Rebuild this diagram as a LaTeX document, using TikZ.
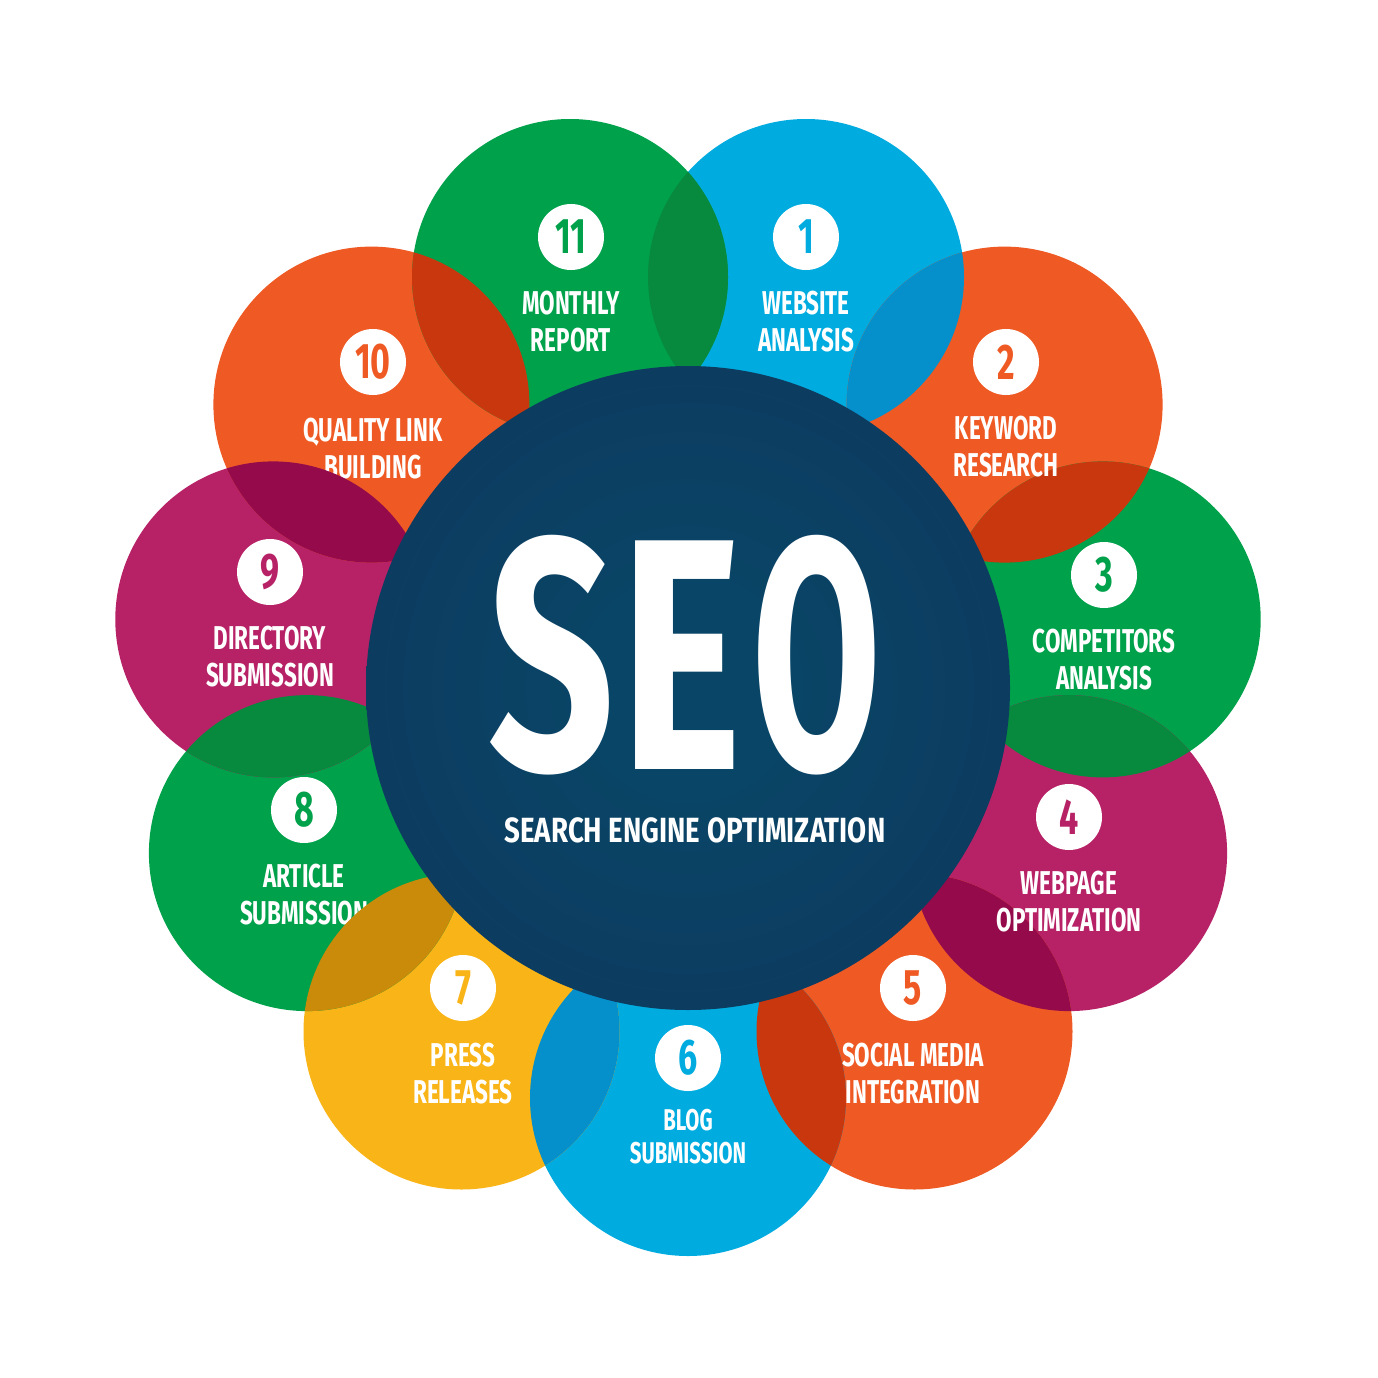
\documentclass[tikz,border=0pt]{standalone}
\usepackage{fontspec}
\newfontfamily\labfam[FakeStretch=0.68]{Fira Sans}
\newfontfamily\subfam[FakeStretch=0.79]{Fira Sans}
\newfontfamily\seofam[FakeStretch=0.62]{Fira Sans}
\newcommand\mynumfont{\labfam\bfseries\fontsize{50}{50}\selectfont}
\newcommand\mylblfont{\labfam\bfseries\fontsize{33}{37}\selectfont}
\newcommand\mysmallfont{\labfam\bfseries\fontsize{30}{33}\selectfont}
\definecolor{cgreen}{HTML}{00A14B}
\definecolor{cgreenD}{HTML}{07893E}
\definecolor{cblue}{HTML}{00ACDF}
\definecolor{cblueD}{HTML}{058FCB}
\definecolor{corange}{HTML}{EF5A24}
\definecolor{corangeD}{HTML}{C8370D}
\definecolor{cmag}{HTML}{B72267}
\definecolor{cmagD}{HTML}{940A4B}
\definecolor{cyel}{HTML}{F9B517}
\definecolor{cyelD}{HTML}{C98B09}
\definecolor{navyO}{HTML}{172853}
\definecolor{navyM}{HTML}{0E395F}
\definecolor{navyI}{HTML}{094566}
\pgfdeclareradialshading{seoshade}{\pgfpoint{0bp}{0bp}}{color(0bp)=(navyI); color(8bp)=(navyI); color(30bp)=(navyM); color(50bp)=(navyO)}
\begin{document}
\begin{tikzpicture}[x=1pt,y=-1pt,
  numc/.style={circle, fill=white, minimum size=66pt, inner sep=0pt, font=\mynumfont},
  lbl/.style={text=white, align=center, inner sep=0pt, font=\mylblfont}]
\fill[white] (0,0) rectangle (1378,1378);
\useasboundingbox (0,0) rectangle (1378,1378);
% centres
\coordinate (c1) at (806,277);
\coordinate (c2) at (1004.6,404.6);
\coordinate (c3) at (1102.7,619.4);
\coordinate (c4) at (1069.1,853.1);
\coordinate (c5) at (914.5,1031.5);
\coordinate (c6) at (688,1098);
\coordinate (c7) at (461.5,1031.5);
\coordinate (c8) at (306.9,853.1);
\coordinate (c9) at (273.3,619.4);
\coordinate (c10) at (371.4,404.6);
\coordinate (c11) at (570,277);
\coordinate (cc) at (688,688);
% base circles
\fill[cblue] (c1) circle (158);
\fill[corange] (c2) circle (158);
\fill[cgreen] (c3) circle (158);
\fill[cmag] (c4) circle (158);
\fill[corange] (c5) circle (158);
\fill[cblue] (c6) circle (158);
\fill[cyel] (c7) circle (158);
\fill[cgreen] (c8) circle (158);
\fill[cmag] (c9) circle (158);
\fill[corange] (c10) circle (158);
\fill[cgreen] (c11) circle (158);
% 11
\begin{scope}\clip (c11) circle (158); \fill[cgreenD] (c1) circle (158);\end{scope}
\node[numc, text=cgreen] (n11) at (571,237) {11};
\node[lbl] (t11) at (571,321.5) {MONTHLY\\REPORT};
% 10
\begin{scope}\clip (c10) circle (158); \fill[corangeD] (c11) circle (158);\end{scope}
\node[numc, text=corange] (n10) at (373,362) {10};
\node[lbl] (t10) at (373,449) {QUALITY LINK\\BUILDING};
% 9
\begin{scope}\clip (c9) circle (158); \fill[cmagD] (c10) circle (158);\end{scope}
\node[numc, text=cmag] (n9) at (270,572) {9};
\node[lbl] (t9) at (270,656.5) {DIRECTORY\\SUBMISSION};
% 8
\begin{scope}\clip (c8) circle (158); \fill[cgreenD] (c9) circle (158);\end{scope}
\node[numc, text=cgreen] (n8) at (304,810) {8};
\node[lbl] (t8) at (304,895) {ARTICLE\\SUBMISSION};
% 7
\begin{scope}\clip (c7) circle (158); \fill[cyelD] (c8) circle (158);\end{scope}
\node[numc, text=cyel] (n7) at (463,988) {7};
\node[lbl] (t7) at (463,1073.5) {PRESS\\RELEASES};
% 6
\begin{scope}\clip (c6) circle (158); \fill[cblueD] (c7) circle (158);\end{scope}
\node[numc, text=cblue] (n6) at (688,1058) {6};
\node[lbl, font=\mysmallfont] (t6) at (688,1136.5) {BLOG\\SUBMISSION};
% 5
\begin{scope}\clip (c5) circle (158); \fill[corangeD] (c6) circle (158);\end{scope}
\node[numc, text=corange] (n5) at (913,988) {5};
\node[lbl] (t5) at (913,1073.5) {SOCIAL MEDIA\\INTEGRATION};
% 4
\begin{scope}\clip (c4) circle (158); \fill[cmagD] (c5) circle (158);\end{scope}
\node[numc, text=cmag] (n4) at (1069,817) {4};
\node[lbl] (t4) at (1069,901.5) {WEBPAGE\\OPTIMIZATION};
% 3
\begin{scope}\clip (c3) circle (158); \fill[cgreenD] (c4) circle (158);\end{scope}
\node[numc, text=cgreen] (n3) at (1104,575) {3};
\node[lbl] (t3) at (1104,659.5) {COMPETITORS\\ANALYSIS};
% 2
\begin{scope}\clip (c2) circle (158); \fill[corangeD] (c3) circle (158);\end{scope}
\node[numc, text=corange] (n2) at (1006,362) {2};
\node[lbl] (t2) at (1006,446.5) {KEYWORD\\RESEARCH};
% 1
\begin{scope}\clip (c1) circle (158); \fill[cblueD] (c2) circle (158);\end{scope}
\node[numc, text=cblue] (n1) at (806,237) {1};
\node[lbl] (t1) at (806,321.5) {WEBSITE\\ANALYSIS};
% centre
\shade[shading=seoshade] (cc) circle (322);
\node[text=white, inner sep=0pt, text depth=0pt, font=\seofam\bfseries\fontsize{330}{330}\selectfont] (seo) at (685,652) {\scalebox{1.08}[1]{S}\kern5pt\scalebox{1.13}[1]{E}\kern11pt\scalebox{0.91}[1]{O}};
\node[text=white, inner sep=0pt, font=\subfam\bfseries\fontsize{35}{35}\selectfont] (sub) at (695,830) {SEARCH ENGINE OPTIMIZATION};
\end{tikzpicture}
\end{document}
